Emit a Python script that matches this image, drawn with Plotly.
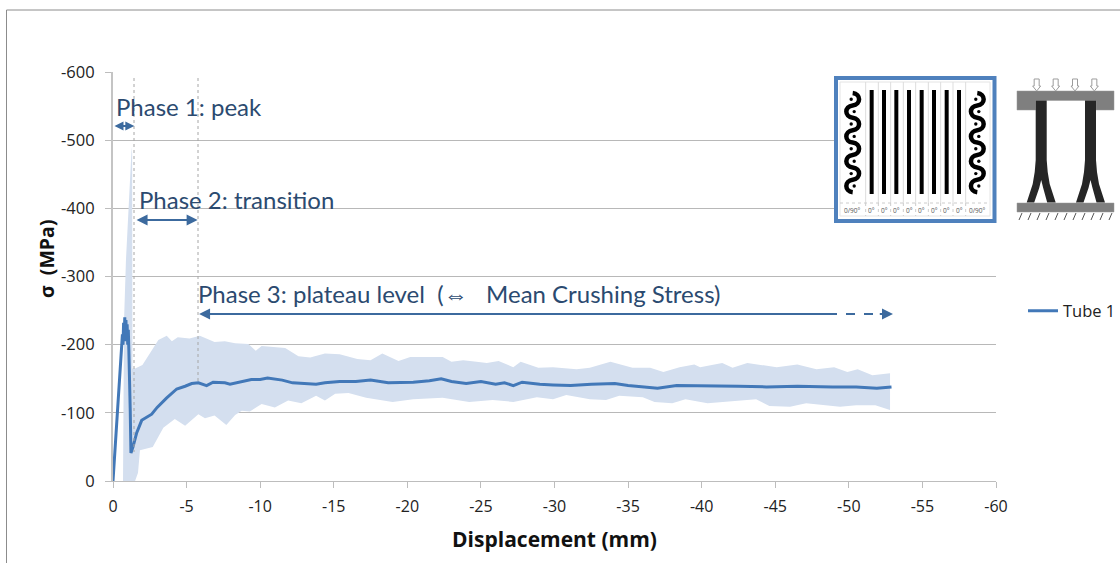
import plotly.graph_objects as go

# ---------- data ----------
mean_mm = [0, 0.2, 0.4, 0.6, 0.64, 0.68, 0.72, 0.76, 0.8, 0.84, 0.88, 0.92, 0.96, 1.0, 1.04, 1.08, 1.12, 1.17, 1.22, 1.28, 1.36, 1.6, 1.95, 2.63, 3.0, 3.65, 4.33, 4.9, 5.35, 5.8, 6.36, 6.8, 7.6, 7.95, 8.5, 9.4, 10.0, 10.5, 11.5, 12.2, 13.0, 13.8, 14.4, 15.4, 16.5, 17.5, 18.7, 20.4, 21.5, 22.3, 23.0, 24.0, 25.0, 26.0, 26.6, 27.2, 27.8, 29.0, 29.9, 31.1, 32.5, 34.1, 35.0, 35.8, 37.0, 38.3, 40.8, 42.5, 44.4, 46.5, 48.9, 50.5, 51.9, 52.9]
mean_mpa = [0, -65, -133, -200, -215, -200, -232, -205, -240, -208, -236, -205, -230, -200, -222, -190, -165, -105, -41, -44, -50, -70, -89, -98, -108, -122, -135, -139, -143, -144, -140, -145, -144, -142, -145, -149, -149, -151, -148, -144, -143, -142, -144, -146, -146, -148, -144, -145, -147, -150, -146, -143, -146, -142, -144, -140, -145, -142, -141, -140, -142, -143, -140, -138, -136, -140, -140, -139, -138, -139, -138, -138, -136, -138]

upper_mm = [0.68, 0.75, 0.88, 1.09, 1.27, 1.3, 1.32, 1.5, 2.0, 2.65, 3.08, 3.65, 4.0, 4.4, 5.2, 5.9, 6.9, 7.6, 8.3, 9.2, 9.7, 10.1, 11.7, 12.6, 13.4, 14.4, 15.4, 16.6, 17.5, 18.3, 19.4, 20.2, 22.4, 23.0, 23.8, 24.7, 25.4, 26.2, 27.2, 27.7, 28.9, 29.9, 31.5, 32.4, 33.8, 35.3, 36.5, 37.4, 38.5, 39.5, 39.9, 41.4, 42.1, 43.1, 45.1, 46.5, 47.8, 49.0, 49.9, 50.6, 51.6, 52.8]
upper_mpa = [0, -235, -324, -422, -490, -480, -165, -165, -170, -192, -207, -213, -205, -211, -209, -213, -204, -205, -202, -201, -191, -198, -195, -183, -181, -187, -186, -179, -177, -187, -176, -182, -182, -175, -177, -175, -173, -176, -167, -175, -166, -167, -164, -166, -175, -166, -166, -160, -167, -171, -167, -173, -166, -173, -167, -171, -164, -167, -160, -164, -155, -158]

lower_mm = [0.68, 1.5, 1.7, 1.83, 2.7, 3.42, 4.2, 4.9, 5.8, 6.25, 6.9, 7.7, 8.3, 8.75, 9.3, 10.1, 11.0, 11.9, 12.8, 13.8, 14.4, 15.1, 16.0, 17.2, 19.0, 20.4, 22.4, 24.2, 25.8, 27.2, 28.8, 29.9, 30.8, 32.4, 33.5, 34.4, 36.0, 36.8, 38.0, 38.9, 40.4, 41.9, 43.7, 44.6, 46.0, 47.1, 49.4, 50.5, 51.8, 52.8]
lower_mpa = [0, 0, -12, -45, -50, -78, -91, -81, -98, -92, -96, -82, -97, -103, -102, -113, -108, -118, -114, -125, -118, -128, -129, -122, -116, -120, -122, -116, -119, -116, -123, -120, -126, -120, -119, -125, -123, -116, -114, -120, -114, -117, -120, -110, -109, -114, -109, -111, -111, -104]

x_ticks = [0, -5, -10, -15, -20, -25, -30, -35, -40, -45, -50, -55, -60]
x_tick_text = ["0", "-5", "-10", "-15", "-20", "-25", "-30", "-35", "-40", "-45", "-50", "-55", "-60"]
y_ticks = [0, -100, -200, -300, -400, -500, -600]
y_tick_text = ["0", "-100", "-200", "-300", "-400", "-500", "-600"]
layer_labels = ["0/90°", "0°", "0°", "0°", "0°", "0°", "0°", "0°", "0°", "0/90°"]

mean_x = [-v for v in mean_mm]
upper_x = [-v for v in upper_mm]
lower_x = [-v for v in lower_mm]

# ---------- page geometry ----------
W, H = 1120, 563
L, R, T, B = 113, 996, 72, 481
def px(v): return (v - L) / (R - L)
def py(v): return (B - v) / (B - T)
def my(v): return -py(v) * 600

shapes, annos = [], []

def rect(x0, y0, x1, y1, fill, line=None, lw=0):
    shapes.append(dict(type="rect", xref="paper", yref="paper", x0=px(x0), x1=px(x1), y0=py(y0), y1=py(y1),
                       fillcolor=fill, line=dict(color=line or fill, width=lw), layer="above"))
def seg(x0, y0, x1, y1, color, lw=1, dash="solid", layer="above"):
    shapes.append(dict(type="line", xref="paper", yref="paper", x0=px(x0), x1=px(x1), y0=py(y0), y1=py(y1),
                       line=dict(color=color, width=lw, dash=dash), layer=layer))
def path(points, fill="rgba(0,0,0,0)", line="rgba(0,0,0,0)", lw=0):
    d = "M " + " L ".join(f"{px(a):.5f},{py(b):.5f}" for a, b in points) + " Z"
    shapes.append(dict(type="path", xref="paper", yref="paper", path=d, fillcolor=fill,
                       line=dict(color=line, width=lw), layer="above"))
def curve(d_cmds, line="#000", lw=4.5):
    shapes.append(dict(type="path", xref="paper", yref="paper", path=d_cmds, fillcolor="rgba(0,0,0,0)",
                       line=dict(color=line, width=lw), layer="above"))

# outer frame of the pasted chart
seg(6.5, 10, 1120, 10, "#8c8c8c", 1)
seg(6.5, 10, 6.5, 563, "#8c8c8c", 1)

# phase boundaries
seg(134, 78, 134, 452, "#a6a6a6", 1, "dot")
seg(198, 78, 198, 384, "#a6a6a6", 1, "dot")

# layup inset
rect(836, 78, 994.5, 221, "#ffffff", "#4f81bd", 4)
rect(840, 82, 990, 216, "#ffffff", "#e4e4e4", 1)
for zx in [137, 175, 212, 250, 287, 325, 362, 399, 437]:
    seg(820 + zx / 3, 82, 820 + zx / 3, 203, "#dddddd", 1)
    seg(820 + zx / 3, 203, 820 + zx / 3, 216, "#cccccc", 1, "dot")
seg(840, 203, 990, 203, "#cccccc", 1, "dot")
for zx in [155, 192, 229, 267, 305, 342, 380, 417]:
    rect(820 + zx / 3 - 2, 90, 820 + zx / 3 + 2, 194, "#000000")
for cx in [852.7, 977.3]:
    n = 8
    y0, step = 93, 12.4
    d = f"M {px(cx):.5f},{py(y0):.5f}"
    for i in range(n):
        s = 1 if i % 2 == 0 else -1
        d += (f" C {px(cx + s * 8.5):.5f},{py(y0 + i * step + 1):.5f}"
              f" {px(cx + s * 8.5):.5f},{py(y0 + (i + 1) * step - 1):.5f}"
              f" {px(cx):.5f},{py(y0 + (i + 1) * step):.5f}")
    curve(d)
    for i in range(n):
        s = 1 if i % 2 == 0 else -1
        yc = y0 + (i + 0.5) * step
        shapes.append(dict(type="circle", xref="paper", yref="paper", layer="above", fillcolor="#000",
                           line=dict(width=0, color="#000"),
                           x0=px(cx - s * 1.5 - 1.7), x1=px(cx - s * 1.5 + 1.7),
                           y0=py(yc + 1.7), y1=py(yc - 1.7)))
label_pos = [852.7, 871.5, 884, 896.5, 909, 921.5, 934, 946.5, 959, 977.3]
for t, xp in zip(layer_labels, label_pos):
    annos.append(dict(text=t, xref="paper", yref="paper", x=px(xp), y=py(210.5), showarrow=False,
                      font=dict(size=6.5, color="#555555", family="Open Sans"), xanchor="center", yanchor="middle"))

# crushing-tube sketch
path([(1017, 91), (1114, 91), (1114, 110), (1096, 110), (1096, 100.5), (1035.7, 100.5), (1035.7, 110), (1017, 110)],
     fill="#7f7f7f", line="#999999", lw=0.5)
rect(1017, 203, 1114, 212, "#7f7f7f", "#999999", 0.5)
for x_l, x_r in [(1035.7, 1046.7), (1085, 1096)]:
    c = (x_l + x_r) / 2
    path([(x_l, 100.5), (x_r, 100.5), (x_r, 160), (x_r + 1, 172), (x_r + 3, 184), (x_r + 9, 202.5), (x_r + 0.5, 202.5),
          (c + 2, 188), (c, 180), (c - 2, 188), (x_l - 1.5, 202.5), (x_l - 9, 202.5), (x_l - 3, 184), (x_l - 1, 172), (x_l, 160)],
         fill="#262626")
for zx in [650, 707, 765, 823]:
    ax = 820 + zx / 3
    path([(ax - 2.5, 79), (ax + 2.5, 79), (ax + 2.5, 86), (ax + 4, 86), (ax, 91), (ax - 4, 86), (ax - 2.5, 86)],
         fill="#ffffff", line="#9c9c9c", lw=1)
for zx in range(600, 880, 27):
    hx = 820 + zx / 3
    seg(hx + 2, 213, hx - 1, 220, "#555555", 1)

# phase spans
ARROW = "#3c6a9e"
TEXT = "#2b4a70"
def span(x0, x1, yp, side="end+start", width=2, size=1.1):
    annos.append(dict(text="", xref="x", yref="y", axref="x", ayref="y", x=x1, y=my(yp), ax=x0, ay=my(yp),
                      showarrow=True, arrowhead=2, arrowside=side, arrowsize=size, arrowwidth=width, arrowcolor=ARROW,
                      startarrowhead=2, startarrowsize=size))

span(0.0, -1.45, 126, size=0.9)
span(-1.5, -5.75, 220)
span(-48.9, -5.85, 314, side="end")
seg(828, 314, 882, 314, ARROW, 2, "dash")
span(-52.0, -53.0, 314, side="end")

def phase(text, xp, yp):
    annos.append(dict(text=text, xref="paper", yref="paper", x=px(xp), y=py(yp), showarrow=False, xanchor="left",
                      yanchor="middle", font=dict(size=24, color=TEXT, family="Lato")))
phase("Phase 1: peak", 114, 106)
phase("Phase 2: transition", 137, 199)
phase("Phase 3: plateau level  (⇔   Mean Crushing Stress)", 196, 293)

annos.append(dict(text="<b>σ  (MPa)</b>", xref="paper", yref="paper", x=px(46), y=py(259), showarrow=False,
                  textangle=-90, xanchor="center", yanchor="middle",
                  font=dict(size=19.5, color="#111111", family="Open Sans")))

fig = go.Figure()
fig.add_trace(go.Scatter(x=upper_x + lower_x[::-1], y=upper_mpa + lower_mpa[::-1], mode="lines", fill="toself",
                         fillcolor="#d4dfef", line=dict(width=0, color="#d4dfef"), showlegend=False,
                         hoverinfo="skip"))
fig.add_trace(go.Scatter(x=mean_x, y=mean_mpa, mode="lines", name="Tube 1",
                         line=dict(color="#4278b8", width=3)))

fig.update_layout(
    width=W, height=H, paper_bgcolor="#ffffff", plot_bgcolor="#ffffff",
    margin=dict(l=L, r=W - R, t=T, b=H - B, pad=0, autoexpand=False),
    font=dict(family="Open Sans", color="#222222"),
    xaxis=dict(range=[0, -60], tickvals=x_ticks, ticktext=x_tick_text, showgrid=False, zeroline=False,
               showline=True, linecolor="#bdbdbd", linewidth=1, ticks="outside", ticklen=6, tickcolor="#bdbdbd",
               ticklabelstandoff=5, tickfont=dict(size=16, color="#222222"), automargin=False,
               title=dict(text="<b>Displacement (mm)</b>", font=dict(size=21, color="#111111"), standoff=16)),
    yaxis=dict(range=[0, -600], tickvals=y_ticks, ticktext=y_tick_text, showgrid=True, gridcolor="#b8b8b8",
               gridwidth=1, zeroline=False, showline=True, linecolor="#c4c4c4", linewidth=2, ticks="outside",
               ticklen=6, tickcolor="#bdbdbd", ticklabelstandoff=7, tickfont=dict(size=16.5, color="#222222"),
               automargin=False),
    legend=dict(x=px(1023), y=py(311), xanchor="left", yanchor="middle", bgcolor="rgba(0,0,0,0)",
                font=dict(size=16.5, color="#222222"), itemwidth=30, borderwidth=0),
    shapes=shapes, annotations=annos,
)
fig.write_html("out.html", config=dict(displayModeBar=False), post_script="document.body.style.margin='0';")
